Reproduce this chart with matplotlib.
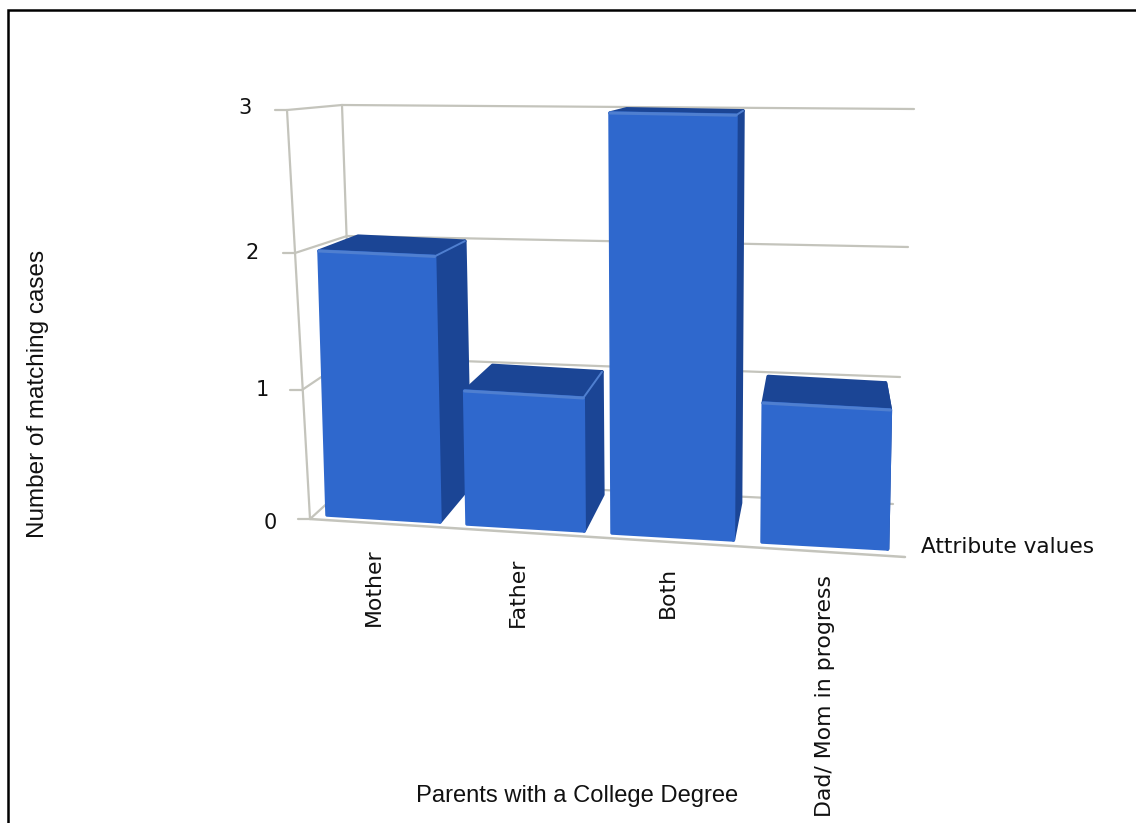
import matplotlib
matplotlib.use("Agg")
import matplotlib.pyplot as plt
from matplotlib.patches import Polygon

# Chart data
categories = ["Mother", "Father", "Both", "Dad/ Mom in progress"]
matching_cases = [2, 1, 3, 1]
value_ticks = [0, 1, 2, 3]
y_title = "Number of matching cases"
x_title = "Parents with a College Degree"
x_end_label = "Attribute values"

# Colours
FRONT = "#2f68cd"
DARK = "#1b4595"
EDGE = "#4f7fd0"
GRID = "#c4c4bc"
TEXT = "#111111"

W, H = 1136, 823

# Perspective of the bars: depth recedes to one vanishing point
VP = (827.0, 58.0)
DEPTH = 0.077


def project_front(i, side, value):
    """Screen position of a bar's front corner; side 0 = left, 1 = right."""
    base_x = 327 + 137.5 * i + 2.5 * i * i + side * (113 + 4.2 * i)
    base_y = 515 + 9 * i + side * 7
    rise = (130 + 3 * i) * value + (2 + 0.8 * side) * value * (value - 1)
    lean = (665 - base_x) * 0.00009 * rise
    return base_x - lean, base_y - rise


def recede(p):
    return p[0] + DEPTH * (VP[0] - p[0]), p[1] + DEPTH * (VP[1] - p[1])


# Wall outline, one entry per value tick
front_left = {0: (310, 519), 1: (302, 390), 2: (295, 253), 3: (287, 110)}
back_left = {0: (355, 478), 1: (351, 357), 2: (347, 236), 3: (342, 105)}
back_right = {0: (893, 504), 1: (900, 377), 2: (908, 247), 3: (914, 109)}
tick_label_pos = {0: (270, 523), 1: (262, 390), 2: (252, 253), 3: (245, 108)}
FLOOR_RIGHT = (905, 557)

fig = plt.figure(figsize=(W / 100, H / 100), dpi=100, facecolor="white")
ax = fig.add_axes([0, 0, 1, 1])
ax.set_xlim(0, W)
ax.set_ylim(H, 0)
ax.axis("off")


def seg(a, b, **kw):
    ax.plot([a[0], b[0]], [a[1], b[1]], solid_capstyle="round", **kw)


# Outer border of the panel
ax.plot([8, 8, W], [H, 10, 10], color="black", lw=1.8, solid_joinstyle="miter")

# Walls, floor and gridlines
grid_style = dict(color=GRID, lw=1.6, zorder=1)
for v in value_ticks:
    fl, bl, br = front_left[v], back_left[v], back_right[v]
    seg((fl[0] - 12, fl[1]), fl, **grid_style)
    seg(fl, bl, **grid_style)
    seg(bl, br, **grid_style)
    ax.text(*tick_label_pos[v], str(v), ha="center", va="center",
            fontsize=15, color=TEXT, family="DejaVu Sans")
seg(front_left[0], front_left[3], **grid_style)
seg(back_left[0], back_left[3], **grid_style)
seg(front_left[0], FLOOR_RIGHT, color=GRID, lw=1.8, zorder=1)

# Bars, left to right
for i, value in enumerate(matching_cases):
    z = 3 + i
    bl = project_front(i, 0, 0)
    br = project_front(i, 1, 0)
    tl = project_front(i, 0, value)
    tr = project_front(i, 1, value)
    face = dict(joinstyle="round", lw=2.5, zorder=z)
    ax.add_patch(Polygon([br, tr, recede(tr), recede(br)],
                         facecolor=DARK, edgecolor=DARK, **face))
    ax.add_patch(Polygon([tl, tr, recede(tr), recede(tl)],
                         facecolor=DARK, edgecolor=DARK, **face))
    ax.add_patch(Polygon([bl, br, tr, tl],
                         facecolor=FRONT, edgecolor=FRONT, **face))
    seg(tl, tr, color=EDGE, lw=2.2, zorder=z + 0.5)
    # The receding edge only catches light when the side face is showing
    if recede(tr)[0] > tr[0]:
        seg(tr, recede(tr), color=EDGE, lw=1.4, zorder=z + 0.4)

# Category labels hang below the floor line
label_pos = [(374, 548), (518, 558), (668, 567), (825, 575)]
for name, (x, y) in zip(categories, label_pos):
    ax.text(x, y, name, rotation=90, ha="center", va="top",
            fontsize=15.8, color=TEXT, family="DejaVu Sans")

ax.text(921, 547, x_end_label, ha="left", va="center",
        fontsize=15.6, color=TEXT, family="DejaVu Sans")
ax.text(577, 796, x_title, ha="center", va="center",
        fontsize=17.1, color=TEXT, family="Liberation Sans")
ax.text(38, 394, y_title, rotation=90, ha="center", va="center",
        fontsize=17.5, color=TEXT, family="Liberation Sans")

fig.savefig("out.png", dpi=100, facecolor="white")
